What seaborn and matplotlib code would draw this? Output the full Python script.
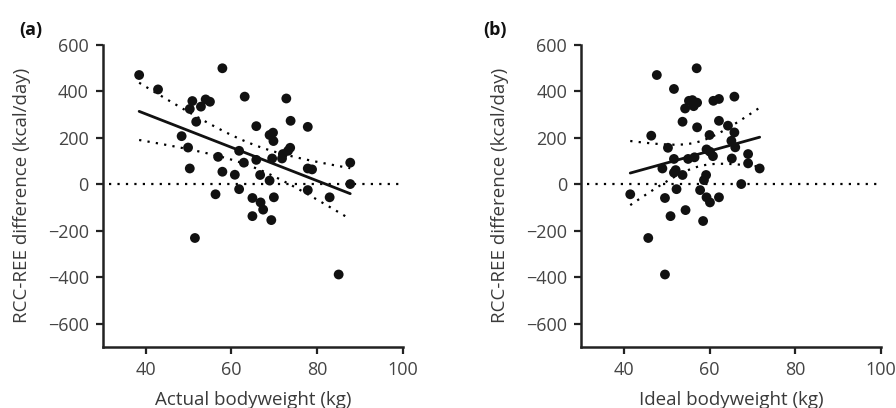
import numpy as np
import pandas as pd
import matplotlib
matplotlib.use("Agg")
import matplotlib.pyplot as plt
import seaborn as sns

# Panel (a): actual bodyweight vs RCC-REE difference
actual_bw = [38.5, 42.9, 57.9, 50.9, 50.3, 52.9, 54.0, 55.0, 63.1, 72.8,
             51.8, 73.8, 48.4, 65.8, 69.7, 68.9, 69.8, 49.9, 61.8, 73.7,
             73.2, 72.0, 71.8, 69.5, 56.9, 65.8, 62.9, 50.3, 57.9, 60.8,
             66.7, 68.9, 77.8, 77.8, 78.8, 87.7, 87.7, 61.8, 56.3, 77.8,
             64.9, 69.9, 66.8, 67.4, 82.9, 64.9, 69.3, 51.5, 85.0]
diff_a = [469, 407, 498, 357, 323, 333, 364, 354, 376, 368,
          268, 272, 206, 249, 221, 211, 185, 157, 143, 156,
          143, 129, 110, 110, 117, 104, 92, 67, 53, 40,
          39, 15, 246, 67, 63, 92, 0, -22, -44, -26,
          -60, -57, -79, -110, -57, -138, -155, -232, -389]

# Panel (b): ideal bodyweight vs RCC-REE difference
ideal_bw = [47.7, 57.0, 51.7, 55.2, 56.0, 57.1, 56.3, 54.3, 60.9, 62.2,
            65.8, 53.7, 57.1, 62.2, 64.3, 65.8, 46.4, 60.0, 65.1, 50.3,
            66.0, 59.3, 60.1, 60.8, 69.0, 69.0, 51.7, 55.0, 56.5, 65.2,
            49.0, 52.1, 51.7, 53.7, 71.7, 59.2, 58.7, 67.4, 41.5, 52.3,
            57.8, 49.6, 59.3, 60.1, 62.2, 54.4, 50.9, 58.5, 45.7, 49.6]
diff_b = [469, 498, 409, 358, 361, 350, 335, 325, 358, 366,
          376, 268, 244, 272, 251, 222, 208, 211, 186, 156,
          158, 149, 139, 120, 129, 89, 108, 108, 115, 110,
          67, 60, 49, 39, 67, 39, 17, 0, -44, -22,
          -26, -60, -57, -79, -57, -112, -138, -159, -232, -389]

x_ticks = [40, 60, 80, 100]
y_ticks = [-600, -400, -200, 0, 200, 400, 600]
panel_labels = ["(a)", "(b)"]
x_labels = ["Actual bodyweight (kg)", "Ideal bodyweight (kg)"]
y_label = "RCC-REE difference (kcal/day)"

sns.set_theme(style="ticks")
plt.rcParams["font.family"] = ["Open Sans", "DejaVu Sans"]

fig = plt.figure(figsize=(8.96, 4.08), dpi=100)
axes = [fig.add_axes([0.1146, 0.150, 0.3352, 0.7408]),
        fig.add_axes([0.6484, 0.150, 0.3348, 0.7408])]

dot = (0, (1, 2.8))
datasets = [(actual_bw, diff_a), (ideal_bw, diff_b)]
for i, (ax, (xv, yv)) in enumerate(zip(axes, datasets)):
    df = pd.DataFrame({"x": xv, "y": yv})
    ax.axhline(0, xmin=(31.5 - 30) / 70, xmax=1, color="black", lw=1.6,
               linestyle=dot, zorder=1)
    sns.regplot(data=df, x="x", y="y", ax=ax, ci=None, truncate=True,
                scatter_kws=dict(s=50, color="#111111", edgecolor="none", alpha=1, zorder=3),
                line_kws=dict(color="#111111", lw=2.0, zorder=4))
    # 95% confidence band of the fitted line (dotted)
    x = np.asarray(xv, float)
    y = np.asarray(yv, float)
    n = len(x)
    b, a = np.polyfit(x, y, 1)
    resid = y - (a + b * x)
    s = np.sqrt(np.sum(resid ** 2) / (n - 2))
    sxx = np.sum((x - x.mean()) ** 2)
    xs = np.linspace(x.min(), x.max(), 100)
    yhat = a + b * xs
    half = 2.01 * s * np.sqrt(1 / n + (xs - x.mean()) ** 2 / sxx)
    ax.plot(xs, yhat + half, color="black", lw=1.6, linestyle=dot, zorder=2)
    ax.plot(xs, yhat - half, color="black", lw=1.6, linestyle=dot, zorder=2)

    ax.set_xlim(30, 100)
    ax.set_ylim(-700, 600)
    ax.set_xticks(x_ticks)
    ax.set_yticks(y_ticks)
    ax.set_yticklabels(["\u2212" + str(-t) if t < 0 else str(t) for t in y_ticks])
    ax.set_xlabel(x_labels[i], fontsize=13.5, color="#3a3a3a", labelpad=9)
    ax.set_ylabel(y_label, fontsize=13.5, color="#3a3a3a", labelpad=12)
    ax.tick_params(axis="both", direction="out", length=5, width=1.6,
                   labelsize=13, labelcolor="#444444", color="#222222", pad=5)
    for side in ["top", "right"]:
        ax.spines[side].set_visible(False)
    for side in ["left", "bottom"]:
        ax.spines[side].set_linewidth(1.8)
        ax.spines[side].set_color("#222222")
    ax.set_facecolor("white")

fig.text(0.022, 0.915, panel_labels[0], fontsize=13, fontweight="bold", color="#111111")
fig.text(0.539, 0.915, panel_labels[1], fontsize=13, fontweight="bold", color="#111111")

fig.savefig("out.png", dpi=100, facecolor="white")
